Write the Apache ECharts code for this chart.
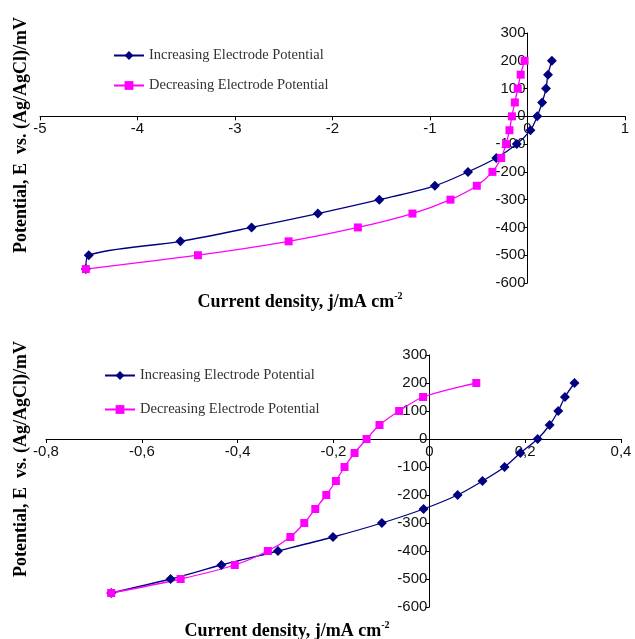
<!DOCTYPE html>
<html>
<head>
<meta charset="utf-8">
<script src="https://cdn.jsdelivr.net/npm/echarts@6/dist/echarts.min.js"></script>
<style>html,body{margin:0;padding:0;background:#fff}#c{width:635px;height:639px}</style>
</head>
<body>
<div id="c"></div>
<script>
// ---- data ----
var seriesNames = ['Increasing Electrode Potential', 'Decreasing Electrode Potential'];
var potentials = [-550, -500, -450, -400, -350, -300, -250, -200, -150, -100, -50, 0, 50, 100, 150, 200];
var topIncX = [-4.53, -4.50, -3.56, -2.83, -2.15, -1.52, -0.95, -0.61, -0.32, -0.11, 0.03, 0.10, 0.15, 0.19, 0.21, 0.25];
var topDecX = [-4.53, -3.38, -2.45, -1.74, -1.18, -0.79, -0.52, -0.36, -0.27, -0.22, -0.185, -0.16, -0.13, -0.10, -0.07, -0.03];
var botIncX = [-0.664, -0.54, -0.434, -0.316, -0.201, -0.099, -0.012, 0.059, 0.111, 0.157, 0.19, 0.226, 0.251, 0.269, 0.283, 0.303];
var botDecX = [-0.664, -0.519, -0.406, -0.337, -0.29, -0.261, -0.238, -0.215, -0.195, -0.177, -0.156, -0.131, -0.104, -0.063, -0.013, 0.098];
var topXTicks = {min: -5, max: 1, interval: 1};
var botXTicks = {min: -0.8, max: 0.4, interval: 0.2};
var yTicks = {min: -600, max: 300, interval: 100};
var yTitle = 'Potential, E  vs. (Ag/AgCl)/mV';
var xTitle = 'Current density, j/mA cm';

function zip(xs, ys) { return xs.map(function (x, i) { return [x, ys[i]]; }); }

var BLUE = '#000080', PINK = '#ff00ff';
var labelFont = {fontFamily: 'Liberation Sans', fontSize: 15, color: '#111'};

var grids = [
  {left: 40, right: 10, top: 33, bottom: 356},
  {left: 46, right: 14, top: 355, bottom: 32}
];
var W = 635, H = 639;

// offset that moves an axis from the grid edge to the value 0 of the crossing axis
function zeroOffset(t, lenPx) {
  var frac = (0 - t.min) / (t.max - t.min);
  return -frac * lenPx;
}

function xAxis(idx, t, fmt) {
  var g = grids[idx];
  var h = H - g.top - g.bottom;
  return {
    type: 'value', gridIndex: idx, min: t.min, max: t.max, interval: t.interval,
    position: 'bottom', offset: zeroOffset(yTicks, h),
    splitLine: {show: false},
    axisLine: {onZero: false, lineStyle: {color: '#000', width: 1}},
    axisTick: {show: true, length: 4, lineStyle: {color: '#000'}},
    axisLabel: Object.assign({margin: 5, formatter: fmt}, labelFont)
  };
}
function yAxis(idx, xt) {
  var g = grids[idx];
  var w = W - g.left - g.right;
  return {
    type: 'value', gridIndex: idx, min: yTicks.min, max: yTicks.max, interval: yTicks.interval,
    position: 'left', offset: zeroOffset(xt, w),
    splitLine: {show: false},
    axisLine: {onZero: false, lineStyle: {color: '#000', width: 1}},
    axisTick: {show: true, length: 4, lineStyle: {color: '#000'}},
    axisLabel: Object.assign({margin: 2}, labelFont)
  };
}
function line(name, idx, data, color, symbol, size) {
  return {
    name: name, type: 'line', xAxisIndex: idx, yAxisIndex: idx, data: data,
    smooth: 0.3, symbol: symbol, symbolSize: size, showAllSymbol: true,
    lineStyle: {color: color, width: 1.3}, itemStyle: {color: color},
    emphasis: {disabled: true}
  };
}
var commaFmt = function (v) { return (Math.round(v * 10) / 10).toString().replace('.', ','); };

var legendText = {fontFamily: 'Liberation Serif', fontSize: 14.5, color: '#333'};
var titleRich = {
  a: {fontFamily: 'Liberation Serif', fontWeight: 'bold', fontSize: 18, fill: '#000'},
  s: {fontFamily: 'Liberation Serif', fontWeight: 'bold', fontSize: 10, fill: '#000', verticalAlign: 'top', padding: [0, 0, 12, 0]}
};

var chart = echarts.init(document.getElementById('c'), null, {renderer: 'canvas'});
chart.setOption({
  animation: false,
  backgroundColor: '#fff',
  grid: grids,
  xAxis: [xAxis(0, topXTicks), xAxis(1, botXTicks, commaFmt)],
  yAxis: [yAxis(0, topXTicks), yAxis(1, botXTicks)],
  legend: [
    {orient: 'vertical', left: 113, top: 48, padding: 0, itemWidth: 30, itemHeight: 11, itemGap: 15,
     data: seriesNames, selectedMode: false, textStyle: legendText},
    {orient: 'vertical', left: 104, top: 368, padding: 0, itemWidth: 30, itemHeight: 11, itemGap: 19,
     data: seriesNames, selectedMode: false, textStyle: legendText}
  ],
  series: [
    line(seriesNames[0], 0, zip(topIncX, potentials), BLUE, 'diamond', 10),
    line(seriesNames[1], 0, zip(topDecX, potentials), PINK, 'rect', 8),
    line(seriesNames[0], 1, zip(botIncX, potentials), BLUE, 'diamond', 10),
    line(seriesNames[1], 1, zip(botDecX, potentials), PINK, 'rect', 8)
  ],
  graphic: [
    {type: 'text', x: 21, y: 135, rotation: Math.PI / 2,
     style: {text: yTitle, fontFamily: 'Liberation Serif', fontWeight: 'bold', fontSize: 18, fill: '#000', align: 'center', verticalAlign: 'middle'}},
    {type: 'text', x: 21, y: 459, rotation: Math.PI / 2,
     style: {text: yTitle, fontFamily: 'Liberation Serif', fontWeight: 'bold', fontSize: 18, fill: '#000', align: 'center', verticalAlign: 'middle'}},
    {type: 'text', x: 300, y: 302,
     style: {text: '{a|' + xTitle + '}{s|-2}', align: 'center', verticalAlign: 'middle', rich: titleRich}},
    {type: 'text', x: 287, y: 631,
     style: {text: '{a|' + xTitle + '}{s|-2}', align: 'center', verticalAlign: 'middle', rich: titleRich}}
  ]
});
</script>
</body>
</html>
